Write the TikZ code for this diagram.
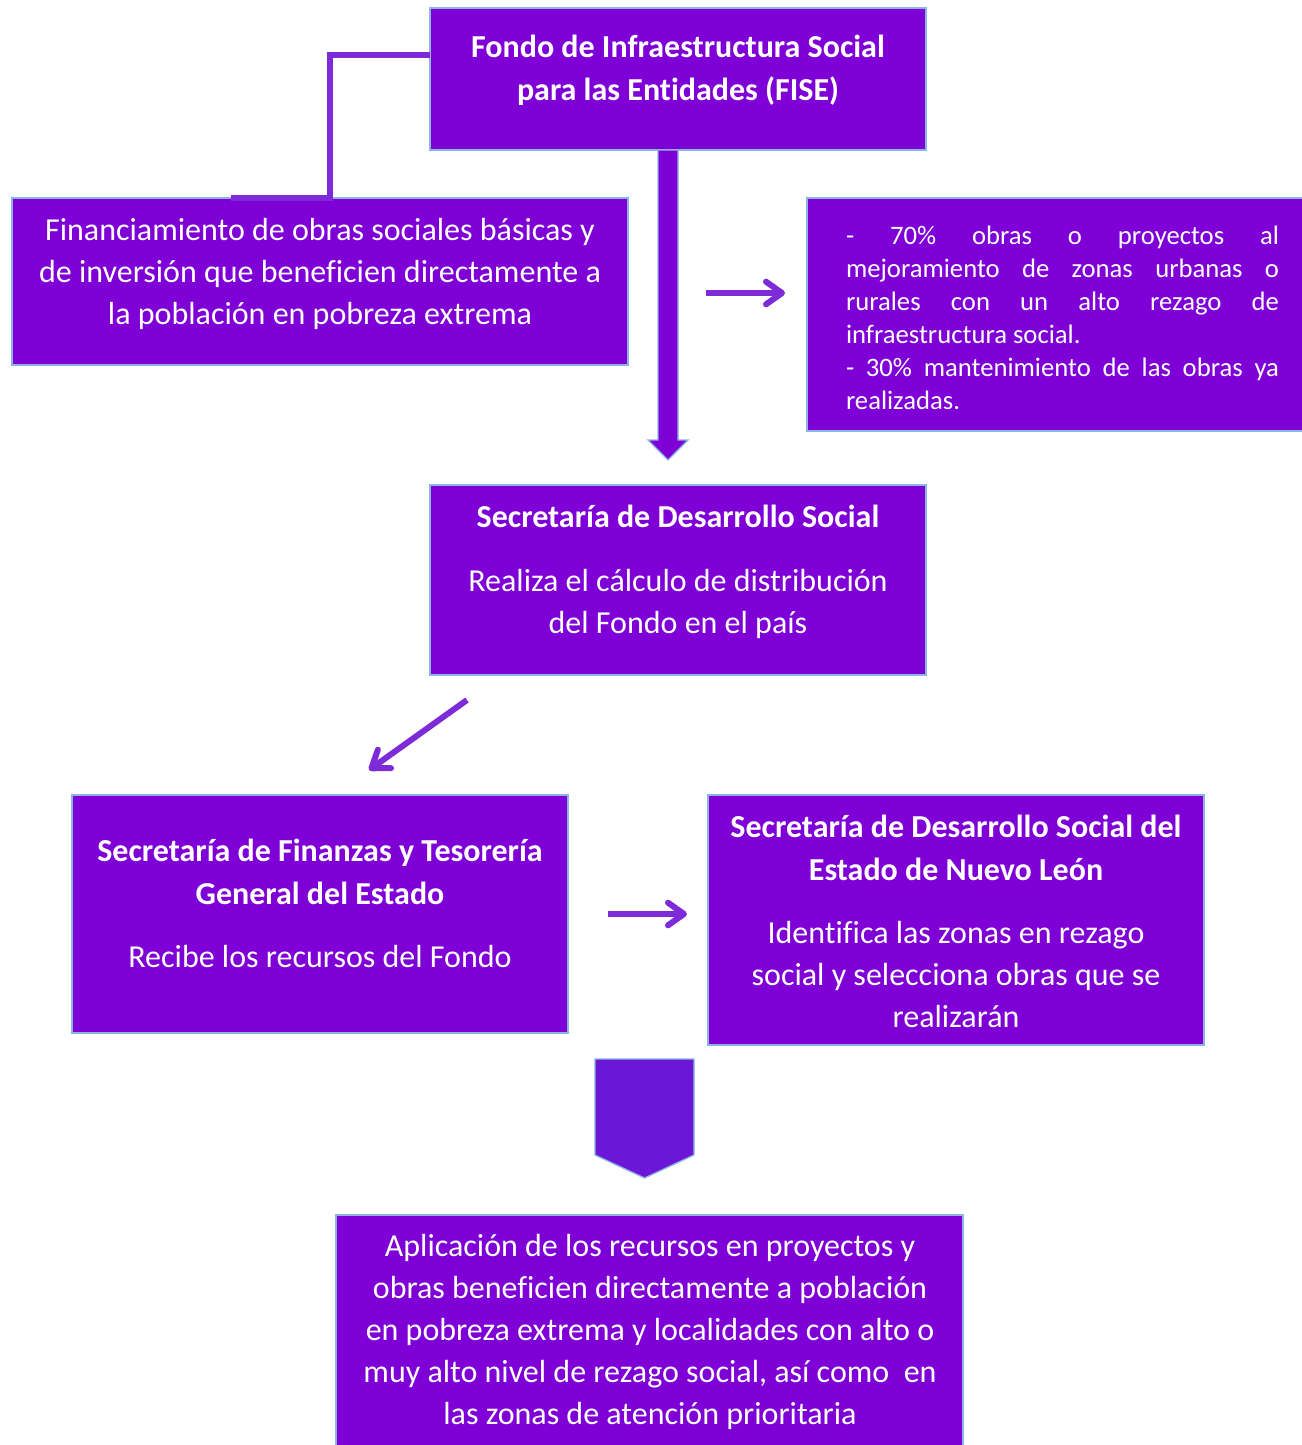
\documentclass[tikz,border=0pt]{standalone}
\usepackage{fontspec}
\setmainfont{Carlito}[Ligatures=NoCommon]
\usetikzlibrary{arrows.meta,calc}
\definecolor{boxfill}{RGB}{126,0,214}
\definecolor{boxline}{RGB}{141,180,226}
\definecolor{conncol}{RGB}{125,42,217}
\definecolor{pentfill}{RGB}{108,22,216}
\begin{document}
\begin{tikzpicture}[x=0.75pt,y=-0.75pt,
  box/.style={draw=boxline,line width=1pt,fill=boxfill,inner sep=0pt,outer sep=0pt},
  txt/.style={text=white,font=\fontsize{24}{31.5}\selectfont,align=center,inner sep=0pt},
  ttl/.style={text=white,font=\fontsize{24}{32.25}\selectfont\bfseries,align=center,inner sep=0pt},
  rtxt/.style={text=white,font=\fontsize{20}{24.75}\selectfont,align=left,inner sep=0pt},
  conn/.style={draw=conncol,line width=4.5pt,-{Straight Barb[length=12pt,width=17pt,round]}},
  elbow/.style={draw=conncol,line width=4pt},
  blockarrow/.style={fill=boxfill,draw=boxline,line width=1pt},
  pent/.style={fill=pentfill,draw=boxline,line width=1pt}]
\useasboundingbox (0,0) rectangle (1302,1445);

% boxes
\node[box,minimum width=372pt,minimum height=106.5pt] (fise) at (678,79) {};
\node[box,minimum width=462pt,minimum height=125.25pt] (left) at (320,281.5) {};
\node[box,minimum width=384.75pt,minimum height=174.75pt] (right) at (1063.5,314.5) {};
\node[box,minimum width=372pt,minimum height=142.5pt] (sds) at (678,580) {};
\node[box,minimum width=372pt,minimum height=178.5pt] (fin) at (320,914) {};
\node[box,minimum width=372pt,minimum height=187.5pt] (nl) at (956,920) {};
\node[box,minimum width=470.25pt,minimum height=183.75pt] (bot) at (649.5,1337.5) {};

% texts
\node[ttl] (fiset) at (678,70) {Fondo de Infraestructura Social\\para las Entidades (FISE)};
\node[txt] (leftt) at (320,273.5) {Financiamiento de obras sociales básicas y\\de inversión que beneficien directamente a\\la población en pobreza extrema};
\node[rtxt] (rightt) at (1062.5,318) {\makebox[324.75pt][s]{- 70\% obras o proyectos al}\\
\makebox[324.75pt][s]{mejoramiento de zonas urbanas o}\\
\makebox[324.75pt][s]{rurales con un alto rezago de}\\
infraestructura social.\\
\makebox[324.75pt][s]{- 30\% mantenimiento de las obras ya}\\
realizadas.};
\node[ttl] (sdst) at (678,516) {Secretaría de Desarrollo Social};
\node[txt] (sdsb) at (678,603.5) {Realiza el cálculo de distribución\\del Fondo en el país};
\node[ttl] (fint) at (320,872) {Secretaría de Finanzas y Tesorería\\General del Estado};
\node[txt] (finb) at (320,956) {Recibe los recursos del Fondo};
\node[ttl] (nlt) at (956,847.5) {Secretaría de Desarrollo Social del\\Estado de Nuevo León};
\node[txt] (nlb) at (956,974) {Identifica las zonas en rezago\\social y selecciona obras que se\\realizarán};
\node[txt] (bott) at (650,1331.5) {Aplicación de los recursos en proyectos y\\obras beneficien directamente a población\\en pobreza extrema y localidades con alto o\\muy alto nivel de rezago social, así como\ \ en\\las zonas de atención prioritaria};

% elbow connector
\draw[elbow] ($(fise.north west)+(0,47)$) -| ($(left.north)+(10,0)$) -- ($(left.north west)+(219,0)$);

% block arrow
\path[blockarrow] ($(fise.south)+(-20,0)$) -- ++(20,0) -- ++(0,290) -- ++(10,0) -- ++(-20,20) -- ++(-20,-20) -- ++(10,0) -- cycle;

% line arrows
\coordinate (a1s) at (706,293);
\coordinate (a1e) at (785,293);
\draw[conn] (a1s) -- (a1e);
\coordinate (a2s) at (467,700);
\coordinate (a2e) at (369,770);
\draw[conn] (a2s) -- (a2e);
\coordinate (a3s) at (608,914);
\coordinate (a3e) at (687,914);
\draw[conn] (a3s) -- (a3e);

% pentagon
\path[pent] (595,1059) -- (694,1059) -- (694,1155) -- (644.5,1178) -- (595,1155) -- cycle;
\end{tikzpicture}
\end{document}
